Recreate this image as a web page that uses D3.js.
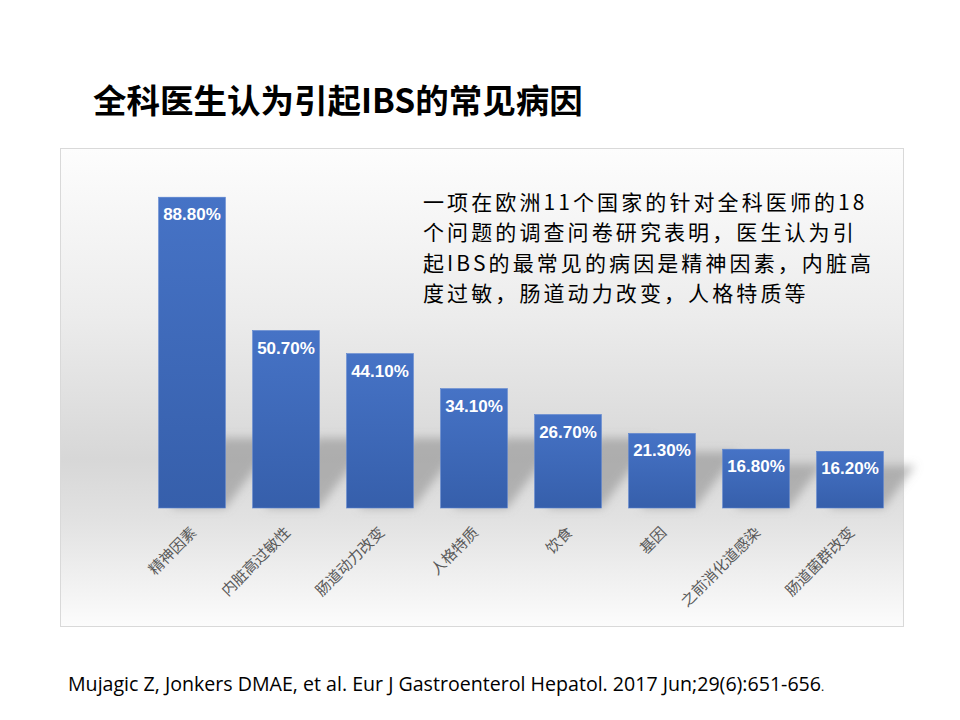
<!DOCTYPE html>
<html>
<head>
<meta charset="utf-8">
<script src="https://cdn.jsdelivr.net/npm/d3@7"></script>
<style>
  body { margin: 0; background: #fff; }
</style>
</head>
<body>
<div id="chart"></div>
<script>
// data
const categories = ['精神因素', '内脏高过敏性', '肠道动力改变', '人格特质', '饮食', '基因', '之前消化道感染', '肠道菌群改变']
const values = [88.8, 50.7, 44.1, 34.1, 26.7, 21.3, 16.8, 16.2]
const titleText = '全科医生认为引起IBS的常见病因'
const noteLines = [
  '一项在欧洲11个国家的针对全科医师的18',
  '个问题的调查问卷研究表明，医生认为引',
  '起IBS的最常见的病因是精神因素，内脏高',
  '度过敏，肠道动力改变，人格特质等'
]
const sourceText = 'Mujagic Z, Jonkers DMAE, et al. Eur J Gastroenterol Hepatol. 2017 Jun;29(6):651-656'

const width = 960
const height = 720
const cjk = "'Noto Sans CJK SC', 'Noto Sans', sans-serif"

const svg = d3.select('#chart')
  .append('svg')
  .attr('width', width)
  .attr('height', height)

const defs = svg.append('defs')

// panel background: white -> grey -> white
const bg = defs.append('linearGradient')
  .attr('id', 'panelGrad')
  .attr('x1', 0).attr('y1', 0).attr('x2', 0).attr('y2', 1)
bg.append('stop').attr('offset', '0').attr('stop-color', '#fdfdfd')
bg.append('stop').attr('offset', '0.35').attr('stop-color', '#ececec')
bg.append('stop').attr('offset', '0.65').attr('stop-color', '#d7d7d7')
bg.append('stop').attr('offset', '0.78').attr('stop-color', '#e2e2e2')
bg.append('stop').attr('offset', '1').attr('stop-color', '#fcfcfc')

const barGrad = defs.append('linearGradient')
  .attr('id', 'barGrad')
  .attr('x1', 0).attr('y1', 0).attr('x2', 0).attr('y2', 1)
barGrad.append('stop').attr('offset', '0').attr('stop-color', '#4673c6')
barGrad.append('stop').attr('offset', '1').attr('stop-color', '#365fab')

defs.append('filter')
  .attr('id', 'blur')
  .attr('x', '-50%').attr('y', '-50%').attr('width', '200%').attr('height', '200%')
  .append('feGaussianBlur')
  .attr('stdDeviation', 5)

// title
svg.append('text')
  .attr('x', 93)
  .attr('y', 113)
  .attr('font-family', cjk)
  .attr('font-weight', 700)
  .attr('font-size', 33.5)
  .attr('fill', '#000')
  .text(titleText)

// chart panel
svg.append('rect')
  .attr('x', 60.5)
  .attr('y', 148.5)
  .attr('width', 843)
  .attr('height', 478)
  .attr('fill', 'url(#panelGrad)')
  .attr('stroke', '#d9d9d9')
  .attr('stroke-width', 1)

const baseline = 508

const xScale = d3.scaleBand()
  .domain(categories)
  .range([145, 897])
  .paddingInner(0.29)
  .paddingOuter(0.145)

const yScale = d3.scaleLinear()
  .domain([0, 100])
  .range([baseline, 158])

// soft cast shadows behind the bars
svg.append('g')
  .attr('filter', 'url(#blur)')
  .selectAll('polygon')
  .data(values)
  .join('polygon')
  .attr('fill', '#8a8a8a')
  .attr('opacity', 0.55)
  .attr('points', (d, i) => {
    const x0 = xScale(categories[i]) + 12
    const x1 = xScale(categories[i]) + xScale.bandwidth()
    const sh = Math.min((baseline - yScale(d)) * 0.75, 70)
    const dx = sh * 0.75
    return [[x0, baseline], [x1, baseline], [x1 + dx, baseline - sh], [x0 + dx, baseline - sh]].join(' ')
  })

// bars
svg.append('g')
  .selectAll('rect')
  .data(values)
  .join('rect')
  .attr('x', (d, i) => xScale(categories[i]))
  .attr('y', d => yScale(d))
  .attr('width', xScale.bandwidth())
  .attr('height', d => baseline - yScale(d))
  .attr('fill', 'url(#barGrad)')
  .attr('stroke', '#5b84cf')
  .attr('stroke-width', 0.6)

// value labels inside the bar tops
svg.append('g')
  .selectAll('text')
  .data(values)
  .join('text')
  .attr('x', (d, i) => xScale(categories[i]) + xScale.bandwidth() / 2)
  .attr('y', d => yScale(d) + 23)
  .attr('text-anchor', 'middle')
  .attr('font-family', "'Liberation Sans', Arial, sans-serif")
  .attr('font-weight', 700)
  .attr('font-size', 17)
  .attr('fill', '#fff')
  .text(d => d.toFixed(2) + '%')

// rotated category labels
svg.append('g')
  .selectAll('text')
  .data(categories)
  .join('text')
  .attr('transform', d => `translate(${xScale(d) + xScale.bandwidth() / 2 - 2}, 526) rotate(-45)`)
  .attr('text-anchor', 'end')
  .attr('dy', '0.7em')
  .attr('font-family', cjk)
  .attr('font-size', 15)
  .attr('fill', '#595959')
  .text(d => d)

// annotation block (line pitch kept just above the font box so lines don't collide)
svg.append('g')
  .selectAll('text')
  .data(noteLines)
  .join('text')
  .attr('x', 423)
  .attr('y', (d, i) => 209.5 + i * 30.5)
  .attr('font-family', cjk)
  .attr('font-size', 21)
  .attr('letter-spacing', 3.1)
  .attr('fill', '#000')
  .text(d => d)

// source line
const src = svg.append('text')
  .attr('x', 68)
  .attr('y', 691)
  .attr('font-family', "'Open Sans', 'Noto Sans', sans-serif")
  .attr('font-size', 19.6)
  .attr('fill', '#000')
src.append('tspan').text(sourceText)
src.append('tspan').attr('font-size', 12).text('.')
</script>
</body>
</html>
